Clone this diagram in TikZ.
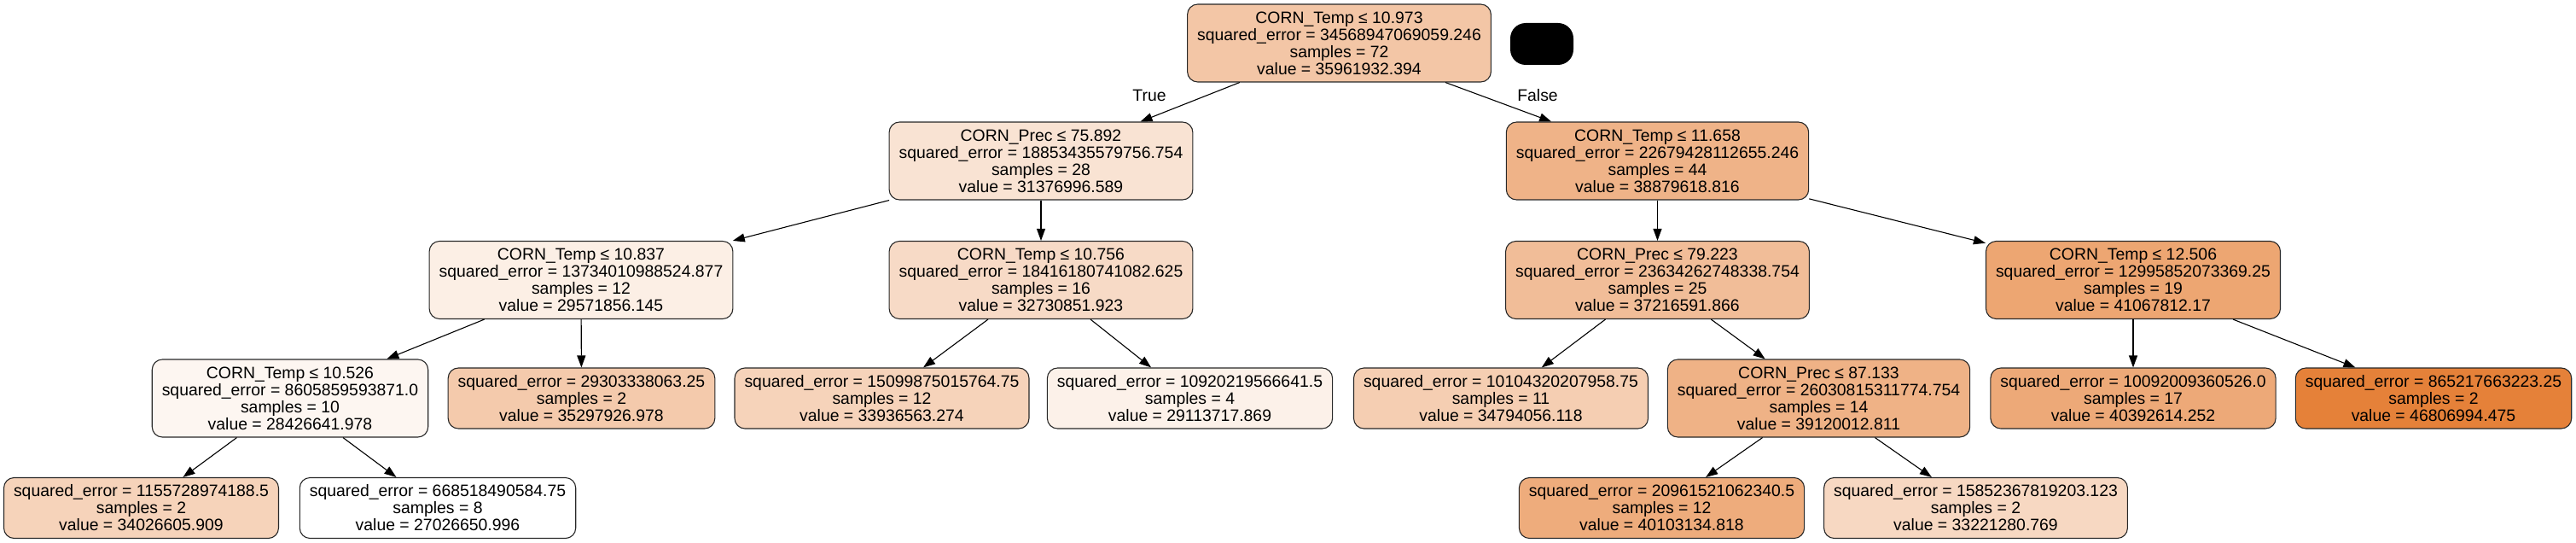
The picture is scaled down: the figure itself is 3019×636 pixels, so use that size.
\documentclass[tikz,border=0pt]{standalone}
\usepackage{fontspec}
\setmainfont{Liberation Sans}
\usetikzlibrary{arrows.meta}
\definecolor{SplitOrange}{RGB}{229,129,57}
\definecolor{BorderGray}{RGB}{40,40,40}

\begin{document}
\begin{tikzpicture}[x=0.5pt, y=-0.5pt,
    treenode/.style={draw=BorderGray, line width=0.55pt, rounded corners=6pt, align=center,
      inner xsep=5.75pt, inner ysep=2pt, font=\fontsize{9.7}{10}\selectfont, minimum height=45.5pt},
    leafnode/.style={treenode, minimum height=35.5pt},
    treearrow/.style={-{Triangle[length=7pt,width=5pt]}, line width=0.55pt},
    branchlabel/.style={font=\fontsize{9.7}{10}\selectfont, inner sep=0pt}]
  \useasboundingbox (0,0) rectangle (3019,636);
  % depth 0
  \node[treenode, fill=SplitOrange!45!white] (n0) at (1569.5,50.5) {CORN\_Temp ≤ 10.973\\squared\_error = 34568947069059.246\\samples = 72\\value = 35961932.394};
  \node[fill=black, rounded corners=9pt, minimum width=37pt, minimum height=24.5pt, inner sep=0pt] (n19) at (1807,51.5) {};
  % depth 1
  \node[treenode, fill=SplitOrange!22!white] (n1) at (1220,188.5) {CORN\_Prec ≤ 75.892\\squared\_error = 18853435579756.754\\samples = 28\\value = 31376996.589};
  \node[treenode, fill=SplitOrange!60!white] (n10) at (1942.5,188.5) {CORN\_Temp ≤ 11.658\\squared\_error = 22679428112655.246\\samples = 44\\value = 38879618.816};
  % depth 2
  \node[treenode, fill=SplitOrange!13!white] (n2) at (681,328) {CORN\_Temp ≤ 10.837\\squared\_error = 13734010988524.877\\samples = 12\\value = 29571856.145};
  \node[treenode, fill=SplitOrange!29!white] (n7) at (1220,328) {CORN\_Temp ≤ 10.756\\squared\_error = 18416180741082.625\\samples = 16\\value = 32730851.923};
  \node[treenode, fill=SplitOrange!52!white] (n11) at (1942.5,328) {CORN\_Prec ≤ 79.223\\squared\_error = 23634262748338.754\\samples = 25\\value = 37216591.866};
  \node[treenode, fill=SplitOrange!71!white] (n16) at (2500,328) {CORN\_Temp ≤ 12.506\\squared\_error = 12995852073369.25\\samples = 19\\value = 41067812.17};
  % depth 3
  \node[treenode, fill=SplitOrange!7!white] (n3) at (340,466.5) {CORN\_Temp ≤ 10.526\\squared\_error = 8605859593871.0\\samples = 10\\value = 28426641.978};
  \node[leafnode, fill=SplitOrange!42!white] (n6) at (681.5,466.5) {squared\_error = 29303338063.25\\samples = 2\\value = 35297926.978};
  \node[leafnode, fill=SplitOrange!35!white] (n8) at (1033.5,466.5) {squared\_error = 15099875015764.75\\samples = 12\\value = 33936563.274};
  \node[leafnode, fill=SplitOrange!11!white] (n9) at (1394.5,466.5) {squared\_error = 10920219566641.5\\samples = 4\\value = 29113717.869};
  \node[leafnode, fill=SplitOrange!39!white] (n12) at (1759,466.5) {squared\_error = 10104320207958.75\\samples = 11\\value = 34794056.118};
  \node[treenode, fill=SplitOrange!61!white] (n13) at (2131.5,466.5) {CORN\_Prec ≤ 87.133\\squared\_error = 26030815311774.754\\samples = 14\\value = 39120012.811};
  \node[leafnode, fill=SplitOrange!68!white] (n17) at (2500,466.5) {squared\_error = 10092009360526.0\\samples = 17\\value = 40392614.252};
  \node[leafnode, fill=SplitOrange] (n18) at (2852,466.5) {squared\_error = 865217663223.25\\samples = 2\\value = 46806994.475};
  % depth 4
  \node[leafnode, fill=SplitOrange!35!white] (n4) at (165.5,595) {squared\_error = 1155728974188.5\\samples = 2\\value = 34026605.909};
  \node[leafnode, fill=white] (n5) at (513,595) {squared\_error = 668518490584.75\\samples = 8\\value = 27026650.996};
  \node[leafnode, fill=SplitOrange!66!white] (n14) at (1947.5,595) {squared\_error = 20961521062340.5\\samples = 12\\value = 40103134.818};
  \node[leafnode, fill=SplitOrange!31!white] (n15) at (2315.5,595) {squared\_error = 15852367819203.123\\samples = 2\\value = 33221280.769};
  % edges
  \draw[treearrow] (n0) -- (n1);
  \draw[treearrow] (n0) -- (n10);
  \draw[treearrow] (n1) -- (n2);
  \draw[treearrow] (n1) -- (n7);
  \draw[treearrow] (n2) -- (n3);
  \draw[treearrow] (n2) -- (n6);
  \draw[treearrow] (n3) -- (n4);
  \draw[treearrow] (n3) -- (n5);
  \draw[treearrow] (n7) -- (n8);
  \draw[treearrow] (n7) -- (n9);
  \draw[treearrow] (n10) -- (n11);
  \draw[treearrow] (n10) -- (n16);
  \draw[treearrow] (n11) -- (n12);
  \draw[treearrow] (n11) -- (n13);
  \draw[treearrow] (n13) -- (n14);
  \draw[treearrow] (n13) -- (n15);
  \draw[treearrow] (n16) -- (n17);
  \draw[treearrow] (n16) -- (n18);
  \node[branchlabel] (lbltrue) at (1347,112) {True};
  \node[branchlabel] (lblfalse) at (1802,112) {False};
\end{tikzpicture}
\end{document}
